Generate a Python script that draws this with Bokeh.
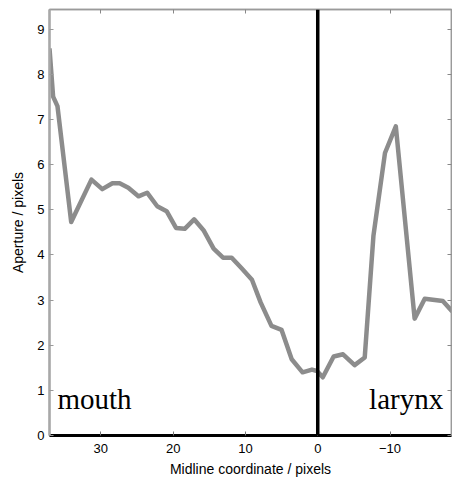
from bokeh.plotting import figure
from bokeh.models import Range1d, FixedTicker, LinearAxis, Span, Label
from bokeh.embed import file_html
from bokeh.resources import INLINE

# ---- data ----
midline = [37.1, 36.6, 36.0, 34.1, 31.3, 29.8, 28.4, 27.4, 26.2, 24.8, 23.6, 22.2,
           20.9, 19.6, 18.4, 17.1, 15.8, 14.4, 13.1, 11.9, 10.5, 9.1, 7.9, 6.4,
           5.0, 3.6, 2.1, 0.8, 0.1, -0.7, -2.2, -3.5, -5.1, -6.5, -7.7, -9.3,
           -10.8, -13.4, -14.8, -17.3, -18.6]
aperture = [8.58, 7.51, 7.30, 4.73, 5.67, 5.46, 5.59, 5.59, 5.49, 5.30, 5.38, 5.08,
            4.97, 4.60, 4.58, 4.79, 4.55, 4.14, 3.94, 3.94, 3.70, 3.45, 2.95, 2.43,
            2.34, 1.69, 1.40, 1.46, 1.43, 1.29, 1.75, 1.80, 1.56, 1.73, 4.42, 6.26,
            6.85, 2.59, 3.03, 2.98, 2.75]
x_ticks = [30, 20, 10, 0, -10]
y_ticks = [0, 1, 2, 3, 4, 5, 6, 7, 8, 9]
region_names = ["mouth", "larynx"]
region_x = [36.0, -7.1]
region_y = [0.8, 0.8]
divider_x = 0

p = figure(width=452, height=479, output_backend="svg", toolbar_location=None,
           x_range=Range1d(37.1, -18.5), y_range=Range1d(0, 9.44),
           min_border_left=49, min_border_right=1, min_border_top=9,
           min_border_bottom=42)
p.background_fill_color = "white"
p.border_fill_color = "white"
p.xgrid.visible = False
p.ygrid.visible = False
p.outline_line_color = "#9a9a9a"
p.outline_line_width = 1.5

sans = "Liberation Sans"

xa = p.xaxis[0]
xa.ticker = FixedTicker(ticks=x_ticks)
xa.axis_label = "Midline coordinate / pixels"
xa.axis_label_text_font = sans
xa.axis_label_text_font_size = "14px"
xa.axis_label_text_font_style = "normal"
xa.axis_label_text_color = "black"
xa.axis_label_standoff = 5
xa.major_label_text_font = sans
xa.major_label_text_font_size = "13px"
xa.major_label_text_color = "black"
xa.major_label_standoff = 8
xa.axis_line_color = "black"
xa.axis_line_width = 3
xa.major_tick_in = 4
xa.major_tick_out = 0
xa.major_tick_line_color = "#777777"
xa.minor_tick_line_color = None

ya = p.yaxis[0]
ya.ticker = FixedTicker(ticks=y_ticks)
ya.axis_label = "Aperture / pixels"
ya.axis_label_text_font = sans
ya.axis_label_text_font_size = "14px"
ya.axis_label_text_font_style = "normal"
ya.axis_label_text_color = "black"
ya.axis_label_standoff = 8
ya.major_label_text_font = sans
ya.major_label_text_font_size = "13px"
ya.major_label_text_color = "black"
ya.major_label_standoff = 5
ya.axis_line_color = "#a8a8a8"
ya.axis_line_width = 2.5
ya.major_tick_in = 4
ya.major_tick_out = 0
ya.major_tick_line_color = "#999999"
ya.minor_tick_line_color = None

for side, ticks in (("above", x_ticks), ("right", y_ticks)):
    ax = LinearAxis()
    ax.ticker = FixedTicker(ticks=ticks)
    ax.major_label_text_font_size = "1px"
    ax.major_label_text_color = None
    ax.major_label_standoff = 0
    ax.major_tick_in = 4
    ax.major_tick_out = 0
    ax.major_tick_line_color = "#888888"
    ax.minor_tick_line_color = None
    ax.axis_line_color = "#9a9a9a"
    ax.axis_line_width = 1.5
    p.add_layout(ax, side)

p.line(midline, aperture, line_color="#8c8c8c", line_width=4.5, line_join="round")

p.add_layout(Span(location=divider_x, dimension="height", line_color="black", line_width=3.5))

for name, lx, ly in zip(region_names, region_x, region_y):
    p.add_layout(Label(x=lx, y=ly, text=name, text_font="Liberation Serif",
                       text_font_size="29px", text_color="black",
                       text_baseline="alphabetic"))

open("out.html", "w").write(file_html(p, INLINE))
